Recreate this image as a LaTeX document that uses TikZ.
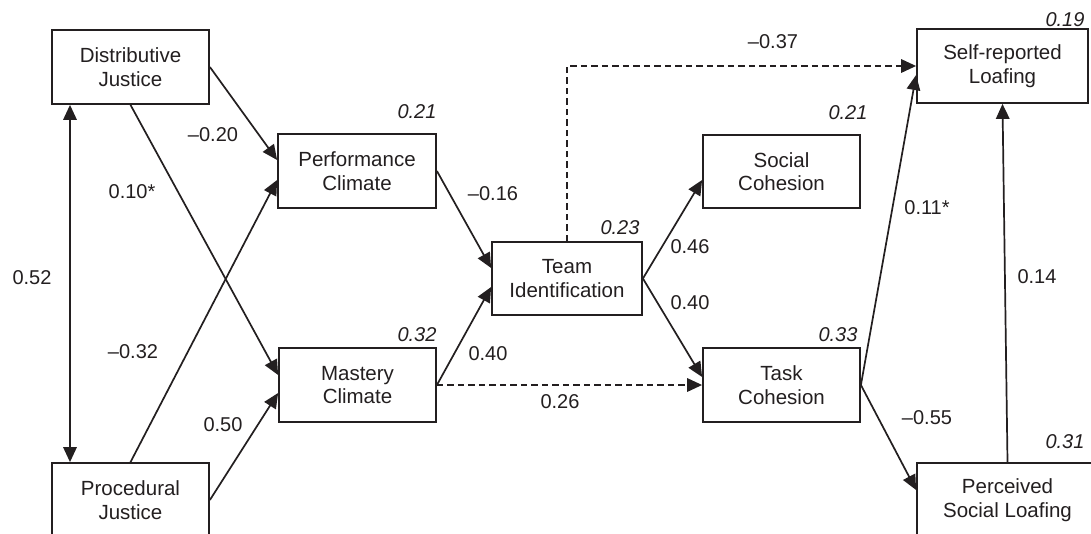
\documentclass[tikz,border=0pt]{standalone}
\usepackage{fontspec}
\setmainfont{Liberation Sans}
\usetikzlibrary{arrows.meta,calc}
\definecolor{ink}{RGB}{35,31,32}
\begin{document}
\begin{tikzpicture}[x=1pt,y=-1pt,
  box/.style={draw=ink, line width=1.8pt, text=ink, align=center,
    font=\fontsize{20.5}{23.5}\selectfont, inner sep=0pt},
  num/.style={text=ink, font=\fontsize{20}{24}\selectfont, inner sep=0pt},
  rsq/.style={text=ink, font=\fontsize{20}{24}\selectfont\itshape, inner sep=0pt},
  tip/.tip={Triangle[length=15pt,width=13.5pt]},
  conn/.style={draw=ink, line width=1.7pt, -tip},
  dconn/.style={conn, dash pattern=on 6.5pt off 4pt}]
\clip (0,0) rectangle (1091,533);
\fill[white] (0,0) rectangle (1091,533);
% boxes
\node[box, minimum width=157pt, minimum height=74pt] (dj) at (130.5,67) {Distributive\\Justice};
\node[box, minimum width=157pt, minimum height=74pt] (pj) at (130.5,500) {Procedural\\Justice};
\node[box, minimum width=158pt, minimum height=74pt] (perf) at (357,171) {Performance\\Climate};
\node[box, minimum width=157pt, minimum height=74pt] (ma) at (357.5,385) {Mastery\\Climate};
\node[box, minimum width=150pt, minimum height=73pt] (team) at (567,278.5) {Team\\Identification};
\node[box, minimum width=157pt, minimum height=73pt] (soc) at (781.5,171.5) {Social\\Cohesion};
\node[box, minimum width=157pt, minimum height=74pt] (task) at (781.5,385) {Task\\Cohesion};
\node[box, minimum width=171pt, minimum height=74pt] (sr) at (1002.5,66) {Self-reported\\Loafing};
\node[box, minimum width=181pt, minimum height=74pt] (psl) at (1007.5,500) {Perceived\\Social Loafing};
% connectors
\draw[conn] (dj.east) -- ([yshift=11pt]perf.west);
\draw[conn] (dj.south) -- ([yshift=10pt]ma.west);
\draw[conn] (pj.north) -- ([yshift=-9pt]perf.west);
\draw[conn] (pj.east) -- ([yshift=-8pt]ma.west);
\draw[conn, tip-tip] ([xshift=-60.5pt]dj.south) -- ([xshift=-60.5pt]pj.north);
\draw[conn] (perf.east) -- ([yshift=10.5pt]team.west);
\draw[conn] (ma.east) -- ([yshift=-8.5pt]team.west);
\draw[dconn] (ma.east) -- (task.west);
\draw[conn] (team.east) -- ([yshift=-8.5pt]soc.west);
\draw[conn] (team.east) -- ([yshift=8pt]task.west);
\draw[dconn] (team.north) |- (sr.west);
\draw[conn] (task.east) -- ([yshift=-9pt]sr.west);
\draw[conn] (task.east) -- ([yshift=10pt]psl.west);
\draw[conn] (psl.north) -- (sr.south);
% path coefficients
\node[num] (l1) at (213,135) {\textendash0.20};
\node[num] (l2) at (132,192) {0.10*};
\node[num] (l3) at (32,278) {0.52};
\node[num] (l4) at (133,352) {\textendash0.32};
\node[num] (l5) at (223,425) {0.50};
\node[num] (l6) at (493,194) {\textendash0.16};
\node[num] (l7) at (488,354) {0.40};
\node[num] (l8) at (560,402) {0.26};
\node[num] (l9) at (690,247) {0.46};
\node[num] (l10) at (690,303) {0.40};
\node[num] (l11) at (773,42) {\textendash0.37};
\node[num] (l12) at (927,208) {0.11*};
\node[num] (l13) at (1037,277) {0.14};
\node[num] (l14) at (927,418) {\textendash0.55};
% R squared
\node[rsq] (r1) at (417,112) {0.21};
\node[rsq] (r2) at (417,335) {0.32};
\node[rsq] (r3) at (620,228) {0.23};
\node[rsq] (r4) at (848,113) {0.21};
\node[rsq] (r5) at (838,335) {0.33};
\node[rsq] (r6) at (1065,20) {0.19};
\node[rsq] (r7) at (1065,442) {0.31};
\end{tikzpicture}
\end{document}
